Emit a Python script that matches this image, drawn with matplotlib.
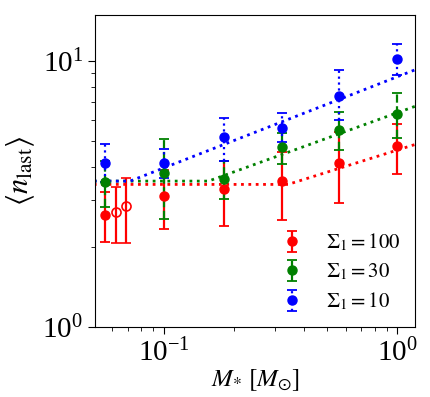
import numpy as np
import matplotlib
matplotlib.use("Agg")
import matplotlib.pyplot as plt

plt.rcParams['font.family'] = ['Liberation Serif', 'DejaVu Serif']
plt.rcParams['mathtext.fontset'] = 'stix'

# stellar mass bins
mass = [0.056, 0.1, 0.18, 0.32, 0.56, 1.0]

# Sigma_1 = 100 (red)
red_y = [2.65, 3.10, 3.30, 3.55, 4.15, 4.80]
red_hi = [3.23, 3.90, 4.22, 4.56, 5.42, 5.81]
red_lo = [2.09, 2.34, 2.40, 2.53, 2.93, 3.77]
# open symbols (red)
open_x = [0.062, 0.069]
open_y = [2.70, 2.86]
open_hi = [3.35, 3.65]
open_lo = [2.08, 2.07]

# Sigma_1 = 30 (green)
green_y = [3.50, 3.81, 3.61, 4.75, 5.49, 6.34]
green_hi = [4.20, 5.08, 4.22, 5.35, 6.43, 7.60]
green_lo = [2.83, 2.55, 3.03, 4.12, 4.63, 5.12]

# Sigma_1 = 10 (blue)
blue_y = [4.15, 4.15, 5.17, 5.61, 7.41, 10.2]
blue_hi = [4.87, 4.66, 6.10, 6.39, 9.27, 11.65]
blue_lo = [3.50, 3.65, 4.22, 4.97, 6.00, 8.86]

# fit lines (knots)
red_fit_x = [0.05, 0.34, 1.2]
red_fit_y = [3.44, 3.44, 4.87]
green_fit_x = [0.05, 0.155, 1.2]
green_fit_y = [3.54, 3.54, 6.78]
blue_fit_x = [0.05, 0.0715, 1.2]
blue_fit_y = [3.54, 3.54, 9.3]


def yerr(y, lo, hi):
    y = np.array(y)
    return [y - np.array(lo), np.array(hi) - y]


fig = plt.figure(figsize=(4.3, 3.97), dpi=100)
ax = fig.add_axes([0.221, 0.176, 0.744, 0.786])

kw = dict(fmt='o', ms=6.5, capsize=3.5, elinewidth=1.6, capthick=1.3)

r = ax.errorbar(mass, red_y, yerr=yerr(red_y, red_lo, red_hi), color='red',
                label=r'$\Sigma_1 = 100$', **kw)
ax.errorbar(open_x, open_y, yerr=yerr(open_y, open_lo, open_hi), color='red',
            mfc='none', mec='red', mew=1.2, **kw)
g = ax.errorbar(mass, green_y, yerr=yerr(green_y, green_lo, green_hi), color='green',
                label=r'$\Sigma_1 = 30$', **kw)
g[2][0].set_linestyle('--')
b = ax.errorbar(mass, blue_y, yerr=yerr(blue_y, blue_lo, blue_hi), color='blue',
                label=r'$\Sigma_1 = 10$', **kw)
b[2][0].set_linestyle(':')

ax.plot(red_fit_x, red_fit_y, ':', color='red', lw=2)
ax.plot(green_fit_x, green_fit_y, ':', color='green', lw=2)
ax.plot(blue_fit_x, blue_fit_y, ':', color='blue', lw=2)

ax.set_xscale('log')
ax.set_yscale('log')
ax.set_xlim(0.0506, 1.19)
ax.set_ylim(1, 14.9)

ax.tick_params(which='both', labelsize=21, direction='out')
ax.tick_params(which='major', length=5)
ax.tick_params(which='minor', length=3)

ax.set_xlabel(r'$M_{*}\ [M_{\odot}]$', fontsize=18, labelpad=0)
ax.set_ylabel(r'$\langle n_{\rm last} \rangle$', fontsize=22)

ax.legend(loc='lower right', frameon=False, fontsize=15, handletextpad=0.6,
          borderaxespad=0.3, labelspacing=0.4)

fig.savefig('out.png', dpi=100)
